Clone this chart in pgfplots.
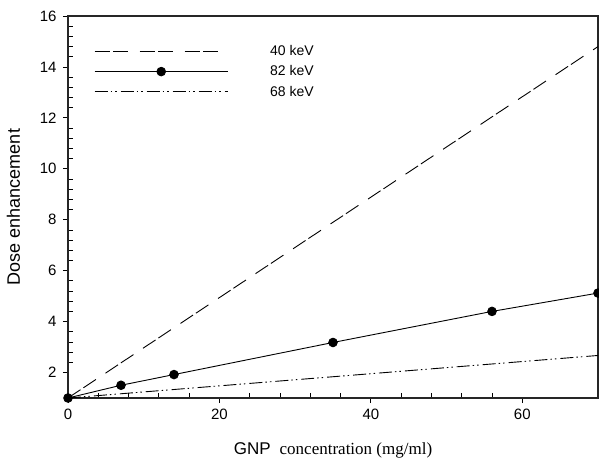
\documentclass[border=0pt]{standalone}
\usepackage{fontspec}
\setmainfont{Liberation Sans}
\newfontfamily\timesfont{Liberation Serif}
\usepackage{pgfplots}
\pgfplotsset{compat=1.18}
\begin{document}
\begin{tikzpicture}[font=\fontsize{14bp}{16bp}\selectfont]
\useasboundingbox (-68bp,-60bp) rectangle (531bp,398bp);
\begin{axis}[
  at={(0,0)}, anchor=south west,
  scale only axis, width=530bp, height=382bp,
  xmin=0, xmax=70, ymin=1, ymax=16,
  xtick={0,20,40,60}, ytick={2,4,...,16},
  minor x tick num=4, minor y tick num=4,
  tick pos=left,
  tick align=outside,
  major tick length=5bp, minor tick length=-5bp,
  axis line style={line width=1.1bp, black!85},
  every tick/.style={black, line width=0.8bp},
  /pgf/number format/assume math mode=true,
  tick label style={font=\fontsize{15bp}{17bp}\selectfont},
  xticklabel style={yshift=-3bp},
  yticklabel style={xshift=-3bp},
  xlabel={GNP\hspace{9bp}{\timesfont concentration (mg/ml)}},
  ylabel={Dose enhancement},
  xlabel style={font=\fontsize{17bp}{20bp}\selectfont, yshift=-16bp},
  ylabel style={font=\fontsize{18bp}{21bp}\selectfont, yshift=13bp},
  legend image code/.code={\draw[#1,mark repeat=2,mark phase=2] plot coordinates {(0bp,0bp)(66.5bp,0bp)(133bp,0bp)};},
  legend style={draw=none, fill=none, at={(axis cs:3.05,15.0)}, anchor=north west,
    font=\fontsize{14bp}{16bp}\selectfont, row sep=4.5bp,
    /tikz/every odd column/.append style={column sep=40bp}},
  legend cell align=left,
]
\addplot[black, line width=0.9bp, dash pattern=on 15bp off 3.5bp on 15bp off 11.5bp] coordinates {(0,1) (70,14.8)};
\addlegendentry{40 keV}
\addplot[black, line width=0.9bp, mark=*, mark size=4.3bp] coordinates {(0,1) (7,1.5) (14,1.92) (35,3.18) (56,4.4) (70,5.12)};
\addlegendentry{82 keV}
\addplot[black, line width=0.9bp, dash pattern=on 13bp off 3bp on 1.5bp off 3bp on 1.5bp off 4bp] coordinates {(0,1) (70,2.67)};
\addlegendentry{68 keV}
\end{axis}
\end{tikzpicture}
\end{document}
